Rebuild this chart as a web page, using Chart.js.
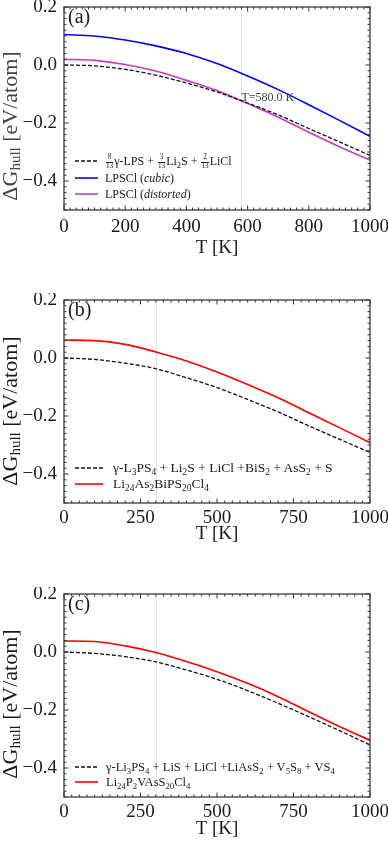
<!DOCTYPE html>
<html lang="en">
<head>
    <meta charset="UTF-8">
    <title>ΔG hull vs T</title>
    <script src="https://cdn.jsdelivr.net/npm/chart.js"></script>
    <style>
        body {
            margin: 0;
            width: 388px;
            height: 843px;
            overflow: hidden;
            background: #fff;
            font-family: 'Liberation Serif', serif;
            color: #1a1a1a;
        }

        .panel {
            position: absolute;
            left: 0;
            width: 388px;
            height: 270px;
        }

        .legend {
            position: absolute;
            left: 75px;
            white-space: nowrap;
        }

        .legend .row {
            display: flex;
            align-items: center;
        }

        .legend svg {
            flex: none;
        }

        sub {
            font-size: 70%;
            vertical-align: -0.3em;
            line-height: 0;
        }

        .fr {
            display: inline-block;
            vertical-align: middle;
            font-size: 0.6em;
            line-height: 1;
            text-align: center;
            margin: 0 1px;
        }

        .fr span {
            display: block;
        }

        .fr span:first-child {
            border-bottom: 0.6px solid #1a1a1a;
        }
    </style>
</head>
<body>
    <div class="panel" id="pa" style="top:0px"><canvas id="ca" width="388" height="270"></canvas></div>
    <div class="panel" id="pb" style="top:293px"><canvas id="cb" width="388" height="270"></canvas></div>
    <div class="panel" id="pc" style="top:587px"><canvas id="cc" width="388" height="270"></canvas></div>

    <script>
        // temperature grid (K)
        const temps = [0, 100, 200, 300, 400, 500, 600, 700, 800, 900, 1000];

        // (a) LPSCl
        const refA = [0, -0.003, -0.015, -0.035, -0.062, -0.093, -0.131, -0.172, -0.219, -0.265, -0.312];
        const cubicA = [0.105, 0.100, 0.086, 0.066, 0.040, 0.005, -0.038, -0.085, -0.137, -0.191, -0.246];
        const distortedA = [0.020, 0.016, 0.002, -0.021, -0.053, -0.088, -0.133, -0.180, -0.232, -0.282, -0.328];

        // (b) Li24As2BiPS20Cl4
        const refB = [0, -0.005, -0.018, -0.037, -0.068, -0.102, -0.143, -0.186, -0.234, -0.280, -0.326];
        const liB = [0.062, 0.060, 0.047, 0.021, -0.010, -0.048, -0.091, -0.137, -0.189, -0.240, -0.292];

        // (c) Li24P2VAsS20Cl4
        const refC = [0, -0.005, -0.016, -0.034, -0.062, -0.094, -0.133, -0.177, -0.223, -0.271, -0.320];
        const liC = [0.038, 0.036, 0.021, -0.002, -0.033, -0.068, -0.108, -0.154, -0.206, -0.257, -0.305];

        // tick labels
        const xTicksA = [0, 200, 400, 600, 800, 1000];
        const xTicksBC = [0, 250, 500, 750, 1000];
        const yTicks = [-0.4, -0.2, 0.0, 0.2];

        const serif = "'Liberation Serif', serif";

        // spines, inward ticks, marker line, panel tag, y title
        const framePlugin = {
            id: 'frame',
            beforeDatasetsDraw(chart, args, o) {
                const { ctx, chartArea: a, scales: { x } } = chart;
                const px = Math.round(x.getPixelForValue(o.markT)) + 0.5;
                ctx.save();
                ctx.strokeStyle = '#e6e6e6';
                ctx.lineWidth = 1;
                ctx.beginPath();
                ctx.moveTo(px, a.top);
                ctx.lineTo(px, a.bottom);
                ctx.stroke();
                ctx.restore();
            },
            afterDraw(chart, args, o) {
                const { ctx, chartArea: a, scales: { x, y } } = chart;
                ctx.save();

                // ticks
                ctx.strokeStyle = '#333';
                ctx.lineWidth = 1;
                ctx.beginPath();
                for (let v = 0; v <= 1000.01; v += o.xMinor) {
                    const major = Math.abs(v % o.xMajor) < 0.01 || Math.abs(v % o.xMajor - o.xMajor) < 0.01;
                    const len = major ? 4.5 : 2.5;
                    const px = x.getPixelForValue(v);
                    ctx.moveTo(px, a.bottom); ctx.lineTo(px, a.bottom - len);
                    ctx.moveTo(px, a.top); ctx.lineTo(px, a.top + len);
                }
                for (let i = -25; i <= 10; i++) {
                    const v = i * 0.02;
                    const major = i % 10 === 0;
                    const len = major ? 4.5 : 2.5;
                    const py = y.getPixelForValue(v);
                    ctx.moveTo(a.left, py); ctx.lineTo(a.left + len, py);
                    ctx.moveTo(a.right, py); ctx.lineTo(a.right - len, py);
                }
                ctx.stroke();

                // spines
                ctx.strokeStyle = '#3a3a3a';
                ctx.lineWidth = 1.3;
                ctx.strokeRect(a.left, a.top, a.right - a.left, a.bottom - a.top);

                // panel tag
                ctx.fillStyle = '#1a1a1a';
                ctx.font = '20px ' + serif;
                ctx.textBaseline = 'middle';
                ctx.fillText(o.tag, a.left + 4, a.top + 11);

                // note next to marker line
                if (o.note) {
                    ctx.fillStyle = '#444';
                    ctx.font = '12px ' + serif;
                    ctx.fillText(o.note, x.getPixelForValue(o.markT), y.getPixelForValue(o.noteY));
                }

                // y title with subscript
                const big = '22px ' + serif, small = '15px ' + serif;
                const p1 = '\u0394G', p2 = 'hull', p3 = ' [eV/atom]';
                ctx.font = big;
                const w1 = ctx.measureText(p1).width, w3 = ctx.measureText(p3).width;
                ctx.font = small;
                const w2 = ctx.measureText(p2).width;
                const total = w1 + w2 + w3;
                ctx.translate(11, o.titleY);
                ctx.rotate(-Math.PI / 2);
                ctx.textBaseline = 'middle';
                let cx = -total / 2;
                ctx.font = big; ctx.fillText(p1, cx, 0); cx += w1;
                ctx.font = small; ctx.fillText(p2, cx, 5); cx += w2;
                ctx.font = big; ctx.fillText(p3, cx, 0);
                ctx.restore();
            }
        };

        function series(vals) {
            return temps.map((t, i) => ({ x: t, y: vals[i] }));
        }

        function dashedLine(w) {
            return `<svg width="${w}" height="6"><line x1="0" y1="3" x2="${w}" y2="3" stroke="#111" stroke-width="1.3" stroke-dasharray="4 2"/></svg>`;
        }

        function solidLine(w, color) {
            return `<svg width="${w}" height="6"><line x1="0" y1="3" x2="${w}" y2="3" stroke="${color}" stroke-width="1.6"/></svg>`;
        }

        function makeChart(canvasId, panelId, cfg) {
            const datasets = cfg.lines.map(l => ({
                label: l.label,
                data: series(l.values),
                borderColor: l.color,
                borderWidth: l.dashed ? 1.3 : 1.6,
                borderDash: l.dashed ? [4, 2] : [],
                pointRadius: 0,
                fill: false,
                cubicInterpolationMode: 'monotone'
            }));

            new Chart(document.getElementById(canvasId), {
                type: 'line',
                data: { datasets: datasets },
                plugins: [framePlugin],
                options: {
                    responsive: false,
                    animation: false,
                    devicePixelRatio: 1,
                    layout: { padding: { left: 0, right: 18, top: 7, bottom: 0 } },
                    plugins: {
                        legend: { display: false },
                        tooltip: { enabled: false },
                        frame: {
                            tag: cfg.tag,
                            markT: cfg.markT,
                            note: cfg.note,
                            noteY: cfg.noteY,
                            xMajor: cfg.xTicks[1],
                            xMinor: cfg.xTicks[1] / 10,
                            titleY: cfg.titleY
                        }
                    },
                    scales: {
                        x: {
                            type: 'linear',
                            min: 0,
                            max: 1000,
                            grid: { display: false, drawTicks: false },
                            border: { display: false },
                            afterBuildTicks: s => { s.ticks = cfg.xTicks.map(v => ({ value: v })); },
                            afterFit: s => {
                                s.height = 60;
                                s.paddingLeft = 0; s.paddingRight = 0;
                            },
                            ticks: {
                                padding: cfg.xTickPad,
                                maxRotation: 0,
                                color: '#1a1a1a',
                                font: { family: serif, size: 19 },
                                callback: v => String(v)
                            },
                            title: {
                                display: true,
                                text: 'T [K]',
                                color: '#1a1a1a',
                                font: { family: serif, size: 19 },
                                padding: { top: 0, bottom: cfg.xTitlePad }
                            }
                        },
                        y: {
                            min: -0.5,
                            max: 0.2,
                            grid: { display: false, drawTicks: false },
                            border: { display: false },
                            afterBuildTicks: s => { s.ticks = yTicks.map(v => ({ value: v })); },
                            afterFit: s => {
                                s.width = 64;
                                s.paddingTop = 0; s.paddingBottom = 0;
                            },
                            ticks: {
                                padding: 7,
                                color: '#1a1a1a',
                                font: { family: serif, size: 19 },
                                callback: v => (v < 0 ? '\u2212' : '') + Math.abs(v).toFixed(1)
                            }
                        }
                    }
                }
            });

            // legend
            const box = document.createElement('div');
            box.className = 'legend';
            box.style.top = cfg.legend.top + 'px';
            box.style.fontSize = cfg.legend.size + 'px';
            box.style.lineHeight = cfg.legend.lh + 'px';
            cfg.lines.forEach(l => {
                const row = document.createElement('div');
                row.className = 'row';
                row.style.height = cfg.legend.lh + 'px';
                const sample = l.dashed ? dashedLine(cfg.legend.w) : solidLine(cfg.legend.w, l.color);
                row.innerHTML = sample + `<span style="margin-left:${cfg.legend.gap}px">${l.html}</span>`;
                box.appendChild(row);
            });
            document.getElementById(panelId).appendChild(box);
        }

        makeChart('ca', 'pa', {
            tag: '(a)',
            markT: 580,
            note: 'T=580.0 K',
            noteY: -0.113,
            xTicks: xTicksA,
            titleY: 126,
            xTickPad: 6,
            xTitlePad: 11,
            legend: { top: 153, size: 12, lh: 16.5, w: 23, gap: 7 },
            lines: [
                { label: '8/13 γ-LPS + 3/13 Li2S + 2/13 LiCl', values: refA, color: '#111', dashed: true,
                  html: '<span class="fr"><span>8</span><span>13</span></span>γ-LPS + <span class="fr"><span>3</span><span>13</span></span>Li<sub>2</sub>S + <span class="fr"><span>2</span><span>13</span></span>LiCl' },
                { label: 'LPSCl (cubic)', values: cubicA, color: '#0000ff',
                  html: 'LPSCl (<i>cubic</i>)' },
                { label: 'LPSCl (distorted)', values: distortedA, color: '#c43cc4',
                  html: 'LPSCl (<i>distorted</i>)' }
            ]
        });

        makeChart('cb', 'pb', {
            tag: '(b)',
            markT: 300,
            xTicks: xTicksBC,
            titleY: 118,
            xTickPad: 4,
            xTitlePad: 18,
            legend: { top: 167, size: 13.5, lh: 16, w: 28, gap: 10 },
            lines: [
                { label: 'γ-L3PS4 + Li2S + LiCl +BiS2 + AsS2 + S', values: refB, color: '#111', dashed: true,
                  html: 'γ-L<sub>3</sub>PS<sub>4</sub> + Li<sub>2</sub>S + LiCl +BiS<sub>2</sub> + AsS<sub>2</sub> + S' },
                { label: 'Li24As2BiPS20Cl4', values: liB, color: '#ff0000',
                  html: 'Li<sub>24</sub>As<sub>2</sub>BiPS<sub>20</sub>Cl<sub>4</sub>' }
            ]
        });

        makeChart('cc', 'pc', {
            tag: '(c)',
            markT: 300,
            xTicks: xTicksBC,
            titleY: 117,
            xTickPad: 4,
            xTitlePad: 17,
            legend: { top: 173, size: 12.5, lh: 14.5, w: 23, gap: 8 },
            lines: [
                { label: 'γ-Li3PS4 + LiS + LiCl +LiAsS2 + V5S8 + VS4', values: refC, color: '#111', dashed: true,
                  html: 'γ-Li<sub>3</sub>PS<sub>4</sub> + LiS + LiCl +LiAsS<sub>2</sub> + V<sub>5</sub>S<sub>8</sub> + VS<sub>4</sub>' },
                { label: 'Li24P2VAsS20Cl4', values: liC, color: '#ff0000',
                  html: 'Li<sub>24</sub>P<sub>2</sub>VAsS<sub>20</sub>Cl<sub>4</sub>' }
            ]
        });
    </script>
</body>
</html>
